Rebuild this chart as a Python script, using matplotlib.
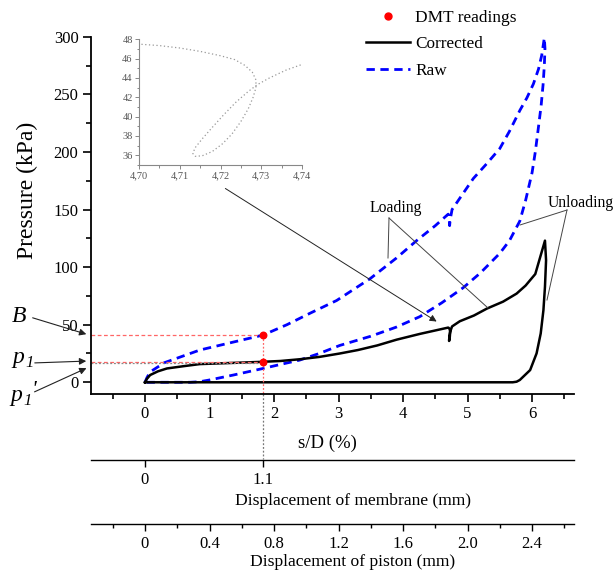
import matplotlib
matplotlib.use("Agg")
import matplotlib.pyplot as plt
from matplotlib.lines import Line2D
from matplotlib.ticker import MultipleLocator, FixedLocator, FuncFormatter

plt.rcParams['font.family'] = ['Liberation Serif', 'DejaVu Serif']
plt.rcParams['mathtext.fontset'] = 'stix'

# ---------------- data ----------------
corr_x = [0, 0.03, 0.08, 0.2, 0.34, 0.6, 0.85, 1.3, 1.83, 2.1, 2.4, 2.7, 3.02, 3.3,
          3.6, 3.9, 4.26, 4.5, 4.700, 4.705, 4.710, 4.715, 4.720, 4.7235, 4.726,
          4.7278, 4.7287, 4.7287, 4.728, 4.7268, 4.725, 4.7228, 4.7205, 4.718,
          4.7155, 4.7138, 4.7132, 4.7138, 4.7155, 4.718, 4.7208, 4.7238, 4.7268,
          4.729, 4.732, 4.736, 4.740, 4.76, 4.88, 5.1, 5.3, 5.55, 5.76, 5.9, 6.05,
          6.2, 6.217, 6.20, 6.176, 6.134, 6.07, 5.97, 5.81, 5.76, 5.7, 3.0, 0]
corr_y = [0, 3, 6.3, 9.5, 12, 14, 15.8, 16.7, 17.8, 18.5, 20, 22, 25, 28,
          32, 37, 42, 45, 47.5, 47.35, 47.1, 46.75, 46.3, 45.9, 45.3,
          44.6, 43.8, 43.0, 42.0, 40.8, 39.5, 38.2, 37.2, 36.4,
          35.95, 35.9, 36.2, 36.8, 37.7, 38.9, 40.2, 41.5, 42.6,
          43.3, 44.0, 44.8, 45.4, 48.5, 53, 58, 64, 70, 77, 84, 94,
          123, 106, 83, 62.6, 42.4, 25.1, 10.6, 2.0, 0.5, 0, 0, 0]

raw_x = [0, 0.03, 0.08, 0.3, 0.6, 0.85, 1.3, 1.83, 2.2, 2.56, 2.97, 3.49, 3.9,
         4.21, 4.5, 4.70, 4.715, 4.722, 4.73, 4.76, 5.09, 5.3, 5.5, 5.65, 5.81,
         5.92, 6.02, 6.1, 6.15, 6.19, 6.2, 6.19, 6.17, 6.14, 6.1, 6.05, 6.0,
         5.9, 5.81, 5.65, 5.5, 5.2, 4.93, 4.6, 4.26, 3.9, 3.5, 3.02, 2.7, 2.4,
         2.1, 1.83, 1.37, 1.0, 0.85, 0.7, 0]
raw_y = [0, 4, 9, 17, 23, 28, 34, 41, 50, 60, 71, 90, 108,
         123, 136, 146, 142, 136, 141, 150, 177, 190, 203, 218, 236,
         247, 259, 272, 284, 299, 290, 275, 258, 240, 222, 200, 182,
         158, 140, 123, 112, 95, 82, 69, 57, 48, 40, 32, 25, 19.3,
         15.5, 12, 6.3, 2, 0.5, 0, 0]

dmt_x = [1.83, 1.83]
dmt_y = [41, 17.8]
p1_prime = 16.7

membrane_ticks = [0, 1.1]
piston_ticks = [0, 0.4, 0.8, 1.2, 1.6, 2.0, 2.4]
MEMBRANE_PER_SD = 0.6
PISTON_PER_SD = 0.4

# ---------------- figure ----------------
W, H = 615, 573
fig = plt.figure(figsize=(W / 100, H / 100), dpi=100)

def fx(px):
    return px / W

def fy(py):
    return 1 - py / H

left_px, right_px = 91, 574
XLIM = (-0.837, 6.65)
YLIM = (-10, 300)
top_px, bot_px = 36.8, 393.8
ax_w = right_px - left_px
ax_h = bot_px - top_px

ax = fig.add_axes([fx(left_px), fy(bot_px), fx(ax_w), ax_h / H])
ax.set_xlim(*XLIM)
ax.set_ylim(*YLIM)
for s in ['top', 'right']:
    ax.spines[s].set_visible(False)
for s in ['left', 'bottom']:
    ax.spines[s].set_linewidth(1.3)
ax.xaxis.set_major_locator(MultipleLocator(1))
ax.xaxis.set_minor_locator(MultipleLocator(0.5))
ax.yaxis.set_major_locator(MultipleLocator(50))
ax.yaxis.set_minor_locator(MultipleLocator(25))
ax.tick_params(which='major', length=6, width=1.2, labelsize=12, direction='out', pad=3)
ax.tick_params(which='minor', length=3.5, width=1.2, direction='out')
ax.set_ylabel('Pressure (kPa)', fontsize=17)
ax.yaxis.set_label_coords((38 - left_px) / ax_w, (bot_px - 190) / ax_h)
ax.set_xlabel('s/D (%)', fontsize=13.5)
ax.xaxis.set_label_coords((327 - left_px) / ax_w, -(435 - bot_px) / ax_h)

raw_line, = ax.plot(raw_x, raw_y, color='#0000ff', lw=2.0, ls=(0, (3, 2)))
corr_line, = ax.plot(corr_x, corr_y, color='black', lw=1.8)

# reference lines for DMT readings
ax.plot([XLIM[0], dmt_x[0]], [dmt_y[0], dmt_y[0]], color='#ff6666', lw=0.9, ls=(0, (3, 2)))
ax.plot([XLIM[0], dmt_x[1]], [dmt_y[1], dmt_y[1]], color='#ff6666', lw=0.9, ls=(0, (3, 2)))
ax.plot([XLIM[0], dmt_x[1]], [p1_prime, p1_prime], color='#888888', lw=0.9, ls=(0, (1.5, 1.5)))
ax.plot([dmt_x[0], dmt_x[0]], [dmt_y[0], YLIM[0]], color='#ff6666', lw=0.9, ls=(0, (1.5, 1.5)))
ax.plot([dmt_x[0], dmt_x[0]], [YLIM[0], -66.5], color='#777777', lw=0.9,
        ls=(0, (1.5, 1.5)), clip_on=False)
dmt_pts = ax.scatter(dmt_x, dmt_y, color='red', s=22, zorder=5)

# legend
handles = [Line2D([], [], ls='none', marker='o', color='red', markersize=5),
           Line2D([], [], color='black', lw=1.8),
           Line2D([], [], color='#0000ff', lw=2.0, ls=(0, (3, 2)))]
ax.legend(handles, ['DMT readings', 'Corrected', 'Raw'], loc='upper left',
          bbox_to_anchor=(fx(366), fy(10)), bbox_transform=fig.transFigure,
          frameon=False, fontsize=12.4, handlelength=2.55, handletextpad=0.3,
          labelspacing=0.6, borderpad=0, borderaxespad=0)

# annotations B, p1, p1'
arrow_kw = dict(arrowstyle='-|>', color='#222222', lw=0.8, mutation_scale=10)
fig.text(fx(12), fy(317), 'B', fontsize=17, va='center', style='italic')
ax.annotate('', xy=(fx(89), fy(335)), xycoords='figure fraction',
            xytext=(fx(30), fy(317)), textcoords='figure fraction', arrowprops=arrow_kw)

def p1_label(x, y, prime=False):
    fig.text(fx(x), fy(y), 'p', fontsize=17, va='baseline', style='italic')
    fig.text(fx(x + 13), fy(y + 4), '1', fontsize=12, va='baseline', style='italic')
    if prime:
        fig.text(fx(x + 21), fy(y - 6), "'", fontsize=16, va='baseline', style='italic')

p1_label(12, 363)
ax.annotate('', xy=(fx(89), fy(361)), xycoords='figure fraction',
            xytext=(fx(32), fy(363)), textcoords='figure fraction', arrowprops=arrow_kw)
p1_label(10, 401, prime=True)
ax.annotate('', xy=(fx(89), fy(367)), xycoords='figure fraction',
            xytext=(fx(32), fy(393)), textcoords='figure fraction', arrowprops=arrow_kw)

# Loading / Unloading labels
fig.text(fx(396), fy(208), 'Loading', fontsize=11.3, ha='center', va='center')
thin = dict(color='#444444', lw=0.7)
fig.add_artist(Line2D([fx(389), fx(388)], [fy(218), fy(258)], **thin))
fig.add_artist(Line2D([fx(389), fx(488)], [fy(218), fy(308)], **thin))
fig.text(fx(548), fy(203), 'Unloading', fontsize=11.3, ha='left', va='center')
fig.add_artist(Line2D([fx(567), fx(520)], [fy(210), fy(225)], **thin))
fig.add_artist(Line2D([fx(567), fx(547)], [fy(210), fy(300)], **thin))

# arrow from inset to dip
ax.annotate('', xy=(fx(439), fy(323)), xycoords='figure fraction',
            xytext=(fx(223), fy(187)), textcoords='figure fraction',
            arrowprops=dict(arrowstyle='-|>', color='#222222', lw=0.7, mutation_scale=10))

# ---------------- secondary axes ----------------
def make_sub(py):
    a = fig.add_axes([fx(left_px), fy(py), fx(ax_w), 0.001])
    a.patch.set_visible(False)
    for s in ['top', 'right', 'left']:
        a.spines[s].set_visible(False)
    a.spines['bottom'].set_linewidth(1.0)
    a.yaxis.set_visible(False)
    return a

mem = make_sub(459.5)
mem.set_xlim(XLIM[0] * MEMBRANE_PER_SD, XLIM[1] * MEMBRANE_PER_SD)
mem.xaxis.set_major_locator(FixedLocator(membrane_ticks))
mem.xaxis.set_major_formatter(FuncFormatter(lambda v, p: f'{v:g}'))
mem.tick_params(length=5, width=1.0, labelsize=12, pad=4)
fig.text(fx(353), fy(501), 'Displacement of membrane (mm)', fontsize=12.6,
         ha='center', va='center')

pis = make_sub(523.5)
pis.set_xlim(XLIM[0] * PISTON_PER_SD, XLIM[1] * PISTON_PER_SD)
pis.xaxis.set_major_locator(FixedLocator(piston_ticks))
pis.xaxis.set_minor_locator(MultipleLocator(0.2))
pis.xaxis.set_major_formatter(FuncFormatter(lambda v, p: '0' if v == 0 else f'{v:.1f}'))
pis.tick_params(which='major', length=5, width=1.0, labelsize=12, pad=4)
pis.tick_params(which='minor', length=3, width=1.0)
fig.text(fx(353), fy(562), 'Displacement of piston (mm)', fontsize=12.6,
         ha='center', va='center')

# ---------------- inset ----------------
ins = fig.add_axes([fx(139), fy(165), fx(302 - 139), (165 - 39.3) / H])
ins.patch.set_visible(False)
ins.plot(corr_x, corr_y, color='#999999', lw=0.9, ls=(0, (1, 2)))
ins.set_xlim(4.70, 4.74)
ins.set_ylim(35, 48)
for s in ['top', 'right']:
    ins.spines[s].set_visible(False)
for s in ['left', 'bottom']:
    ins.spines[s].set_color('#888888')
    ins.spines[s].set_linewidth(0.8)
ins.xaxis.set_major_locator(MultipleLocator(0.01))
ins.xaxis.set_minor_locator(MultipleLocator(0.005))
ins.yaxis.set_major_locator(FixedLocator([36, 38, 40, 42, 44, 46, 48]))
ins.yaxis.set_minor_locator(MultipleLocator(1))
ins.xaxis.set_major_formatter(FuncFormatter(lambda v, p: f'{v:.2f}'.replace('.', ',')))
ins.tick_params(which='both', colors='#888888', labelcolor='#555555', labelsize=7.5,
                width=0.7, pad=1.5)
ins.tick_params(which='major', length=3)
ins.tick_params(which='minor', length=1.8)

fig.savefig('out.png', dpi=100)
